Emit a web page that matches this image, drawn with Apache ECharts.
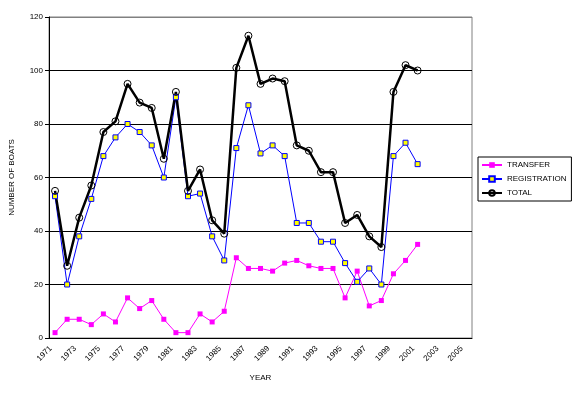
<!DOCTYPE html>
<html><head><meta charset="utf-8">
<script src="https://cdn.jsdelivr.net/npm/echarts@6/dist/echarts.min.js"></script>
<style>html,body{margin:0;padding:0;background:#fff}#c{width:575px;height:393px}</style>
</head><body><div id="c"></div>
<script>
var years = [];
for (var y = 1971; y <= 2005; y++) years.push(String(y));
var transfer =     [2, 7, 7, 5, 9, 6, 15, 11, 14, 7, 2, 2, 9, 6, 10, 30, 26, 26, 25, 28, 29, 27, 26, 26, 15, 25, 12, 14, 24, 29, 35];
var registration = [53, 20, 38, 52, 68, 75, 80, 77, 72, 60, 90, 53, 54, 38, 29, 71, 87, 69, 72, 68, 43, 43, 36, 36, 28, 21, 26, 20, 68, 73, 65];
var total =        [55, 27, 45, 57, 77, 81, 95, 88, 86, 67, 92, 55, 63, 44, 39, 101, 113, 95, 97, 96, 72, 70, 62, 62, 43, 46, 38, 34, 92, 102, 100];
var yTicks = [0, 20, 40, 60, 80, 100, 120];

var font = 'Liberation Sans, Arial, sans-serif';
var chart = echarts.init(document.getElementById('c'), null, {renderer: 'canvas'});
chart.setOption({
  animation: false,
  backgroundColor: '#fff',
  grid: {left: 48, right: 103, top: 17, bottom: 55, show: true, borderColor: '#808080', borderWidth: 1, containLabel: false},
  legend: {
    orient: 'vertical', left: 478, top: 157, itemWidth: 20, itemHeight: 7, itemGap: 6,
    borderColor: '#000', borderWidth: 1, padding: [4, 5, 4, 3],
    textStyle: {fontFamily: font, fontSize: 8, color: '#000'},
    data: ['TRANSFER', 'REGISTRATION', 'TOTAL']
  },
  xAxis: {
    type: 'category', data: years, boundaryGap: true,
    name: 'YEAR', nameLocation: 'middle', nameGap: 36,
    nameTextStyle: {fontFamily: font, fontSize: 8, color: '#000'},
    axisLine: {lineStyle: {color: '#000', width: 1}},
    axisTick: {interval: 0, length: 4, lineStyle: {color: '#000'}},
    axisLabel: {interval: 1, rotate: 45, fontFamily: font, fontSize: 8, color: '#000', margin: 5, padding: [0, 6, 0, 0]}
  },
  yAxis: {
    type: 'value', min: yTicks[0], max: yTicks[yTicks.length - 1], interval: 20,
    name: 'NUMBER OF BOATS', nameLocation: 'middle', nameGap: 33, nameRotate: 90,
    nameTextStyle: {fontFamily: font, fontSize: 8, color: '#000'},
    axisLine: {show: true, lineStyle: {color: '#000', width: 1}},
    axisTick: {show: true, length: 4, lineStyle: {color: '#000'}},
    axisLabel: {fontFamily: font, fontSize: 8, color: '#000', margin: 6},
    splitLine: {show: true, lineStyle: {color: ['#000', '#000', '#000', '#000', '#000', '#000', '#808080'], width: 1}}
  },
  series: [
    {name: 'TRANSFER', type: 'line', data: transfer, symbol: 'rect', symbolSize: 5,
     lineStyle: {color: '#FF00FF', width: 1}, itemStyle: {color: '#FF00FF'}},
    {name: 'REGISTRATION', type: 'line', data: registration, symbol: 'rect', symbolSize: 5,
     lineStyle: {color: '#0000FF', width: 1}, itemStyle: {color: '#FFFF00', borderColor: '#0000FF', borderWidth: 1}},
    {name: 'TOTAL', type: 'line', data: total, symbol: 'circle', symbolSize: 7,
     lineStyle: {color: '#000', width: 2.5}, itemStyle: {color: 'rgba(255,255,255,0)', borderColor: '#000', borderWidth: 1}}
  ]
});
</script></body></html>
